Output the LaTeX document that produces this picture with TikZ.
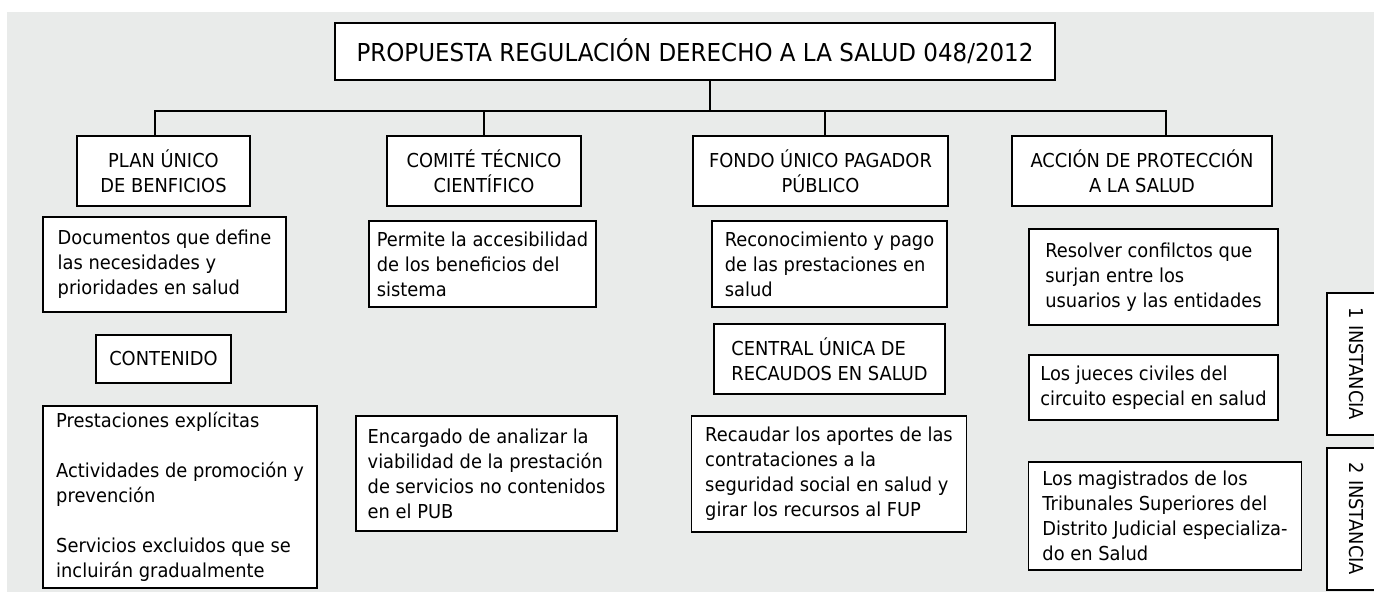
\documentclass[tikz,border=0pt]{standalone}
\usepackage{fontspec}
\setmainfont{DejaVu Sans}[FakeStretch=0.93]
\usetikzlibrary{positioning}
\tikzstyle{box}=[draw=black, fill=white, line width=1.3, inner sep=0pt, align=left, font=\fontsize{19.2bp}{25bp}\selectfont]
\tikzstyle{head}=[box, align=center]
\tikzstyle{l1}=[line width=1.3]
\definecolor{mgray}{RGB}{233,235,234}

\begin{document}
\begin{tikzpicture}[x=1bp, y=-1bp]
    \useasboundingbox (0,0) rectangle (1374,592);
    \fill[mgray] (7,12) rectangle (1374,592);

    \node[head, minimum width=720bp, minimum height=57bp, font=\fontsize{24.7bp}{30bp}\selectfont] at (695,51.5) (title) {PROPUESTA REGULACIÓN DERECHO A LA SALUD 048/2012};

    \node[head, minimum width=173bp, minimum height=70bp] at (163.5,171) (plan) {PLAN ÚNICO\\DE BENFICIOS};
    \node[head, minimum width=194bp, minimum height=70bp] at (484,171) (comite) {COMITÉ TÉCNICO\\CIENTÍFICO};
    \node[head, minimum width=255bp, minimum height=70bp] at (820.5,171) (fondo) {FONDO ÚNICO PAGADOR\\PÚBLICO};
    \node[head, minimum width=260bp, minimum height=70bp] at (1142,171) (accion) {ACCIÓN DE PROTECCIÓN\\A LA SALUD};

    \node[box, minimum width=243bp, minimum height=95bp] at (164.5,264.5) (docs) {Documentos que define\\las necesidades y\\prioridades en salud};
    \node[box, minimum width=227bp, minimum height=86bp] at (482.5,264) (permite) {Permite la accesibilidad\\de los beneficios del\\sistema};
    \node[box, minimum width=235bp, minimum height=86bp] at (829.5,264) (recon) {Reconocimiento y pago\\de las prestaciones en\\salud};
    \node[box, minimum width=249bp, minimum height=96bp] at (1153.5,277) (resolver) {Resolver confilctos que\\surjan entre los\\usuarios y las entidades};

    \node[head, minimum width=135bp, minimum height=48bp] at (163.5,359) (contenido) {CONTENIDO};
    \node[box, minimum width=231bp, minimum height=70bp] at (829.5,359) (central) {CENTRAL ÚNICA DE\\RECAUDOS EN SALUD};
    \node[box, minimum width=249bp, minimum height=65bp] at (1153.5,387.5) (jueces) {Los jueces civiles del\\circuito especial en salud};

    \node[box, minimum width=274bp, minimum height=182bp] at (180,497) (lista) {Prestaciones explícitas\\[25bp]Actividades de promoción y\\prevención\\[25bp]Servicios excluidos que se\\incluirán gradualmente};
    \node[box, minimum width=261bp, minimum height=115bp] at (486.5,473.5) (encargado) {Encargado de analizar la\\viabilidad de la prestación\\de servicios no contenidos\\en el PUB};
    \node[box, minimum width=275.5bp, minimum height=116bp] at (829,474) (recaudar) {Recaudar los aportes de las\\contrataciones a la\\seguridad social en salud y\\girar los recursos al FUP};
    \node[box, minimum width=272.5bp, minimum height=108bp] at (1165,516) (magistrados) {Los magistrados de los\\Tribunales Superiores del\\Distrito Judicial especializa-\\do en Salud};

    \node[head, rotate=-90, minimum width=142bp, minimum height=58bp] at (1356,364) (inst1) {1 INSTANCIA};
    \node[head, rotate=-90, minimum width=142bp, minimum height=58bp] at (1356,519) (inst2) {2 INSTANCIA};

    \coordinate (hub) at (710,111);
    \draw[l1] (title.south -| hub) -- (hub);
    \foreach \n/\dx in {plan/-8.5, comite/0, fondo/4.5, accion/24}
        \draw[l1] ([xshift=\dx bp]\n.north) |- (hub);

\end{tikzpicture}
\end{document}
